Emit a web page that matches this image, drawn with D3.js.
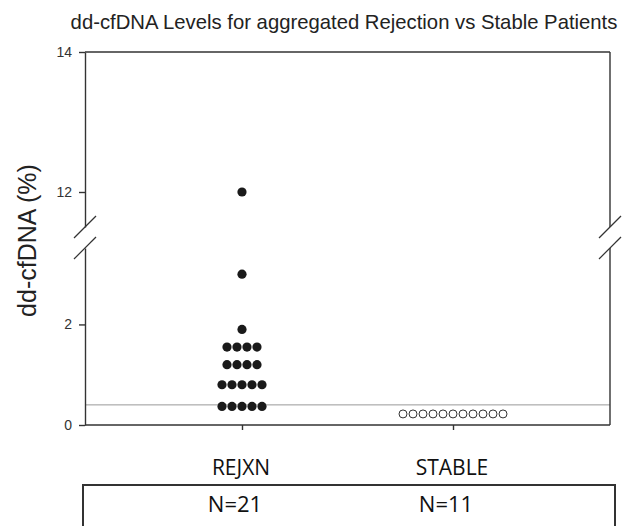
<!DOCTYPE html>
<html>
<head>
<meta charset="utf-8">
<script src="https://cdn.jsdelivr.net/npm/d3@7"></script>
<style>
  body { margin: 0; background: #fff; }
  svg { display: block; }
</style>
</head>
<body>
<svg id="chart" width="633" height="526"></svg>
<script>
// groups and values
const groups = ["REJXN", "STABLE"];
const groupCounts = ["N=21", "N=11"];
const rejxnValues = [12.0, 3.0, 1.9, 1.55, 1.55, 1.55, 1.55, 1.2, 1.2, 1.2, 1.2,
                     0.8, 0.8, 0.8, 0.8, 0.8, 0.37, 0.37, 0.37, 0.37, 0.37];
const stableValues = [0.22, 0.22, 0.22, 0.22, 0.22, 0.22, 0.22, 0.22, 0.22, 0.22, 0.22];
const cutoff = 0.4;
const lowTicks = [0, 2];
const highTicks = [12, 14];
const breakLow = 3.52, breakHigh = 11.5;

const svg = d3.select("#chart");
const left = 85, right = 610;
const arial = "'Liberation Sans', Arial, sans-serif";

// broken y axis: two linear pieces
const yLow = d3.scaleLinear().domain([0, breakLow]).range([425, 248]);
const yHigh = d3.scaleLinear().domain([breakHigh, 14]).range([227, 52]);
const y = v => v >= breakHigh ? yHigh(v) : yLow(v);

const x = d3.scalePoint().domain(groups).range([left, right]).padding(0.744);

// title
svg.append("text")
  .attr("x", 344).attr("y", 29)
  .attr("text-anchor", "middle")
  .attr("font-family", arial)
  .attr("font-size", 20.3).attr("fill", "#222")
  .text("dd-cfDNA Levels for aggregated Rejection vs Stable Patients");

// cutoff line
svg.append("line")
  .attr("x1", left).attr("x2", right)
  .attr("y1", yLow(cutoff)).attr("y2", yLow(cutoff))
  .attr("stroke", "#999").attr("stroke-width", 1);

// axes
const axisCol = "#333";
function styleAxis(g) {
  g.selectAll("path, line").attr("stroke", axisCol).attr("stroke-width", 1.4);
  g.selectAll("text").attr("font-family", arial).attr("font-size", 14).attr("fill", "#333");
}
svg.append("g").attr("transform", `translate(${left},0)`)
  .call(d3.axisLeft(yLow).tickValues(lowTicks).tickFormat(d3.format("d"))
    .tickSize(6).tickSizeOuter(0).tickPadding(7))
  .call(styleAxis);
svg.append("g").attr("transform", `translate(${left},0)`)
  .call(d3.axisLeft(yHigh).tickValues(highTicks).tickFormat(d3.format("d"))
    .tickSize(6).tickSizeOuter(0).tickPadding(7))
  .call(styleAxis);
// right side of frame
[yLow, yHigh].forEach(s => {
  svg.append("line")
    .attr("x1", right).attr("x2", right)
    .attr("y1", s.range()[0]).attr("y2", s.range()[1])
    .attr("stroke", axisCol).attr("stroke-width", 1.4);
});
// top frame
svg.append("line")
  .attr("x1", left).attr("x2", right)
  .attr("y1", yHigh(14)).attr("y2", yHigh(14))
  .attr("stroke", axisCol).attr("stroke-width", 1.4);
// bottom axis
svg.append("g").attr("transform", `translate(0,${yLow(0)})`)
  .call(d3.axisBottom(x).tickSize(5).tickSizeOuter(0).tickFormat(""))
  .call(g => g.select(".domain").attr("d", `M${left},0H${right}`))
  .call(styleAxis);

// break marks
[left, right].forEach(cx => {
  [yHigh(breakHigh), yLow(breakLow)].forEach(cy => {
    svg.append("line")
      .attr("x1", cx - 11).attr("y1", cy + 11)
      .attr("x2", cx + 11).attr("y2", cy - 11)
      .attr("stroke", axisCol).attr("stroke-width", 1.2);
  });
});

// dot layout: points with the same value spread side by side
function layout(values, group) {
  const counts = d3.rollup(values, v => v.length, v => v);
  const seen = new Map();
  return values.map(v => {
    const n = counts.get(v);
    const i = seen.get(v) || 0;
    seen.set(v, i + 1);
    return { value: v, cx: x(group) + (i - (n - 1) / 2) * 10, cy: y(v) };
  });
}

svg.selectAll(".rej")
  .data(layout(rejxnValues, "REJXN"))
  .enter().append("circle")
  .attr("class", "rej")
  .attr("cx", d => d.cx).attr("cy", d => d.cy)
  .attr("r", 4.6).attr("fill", "#1a1a1a");

svg.selectAll(".stab")
  .data(layout(stableValues, "STABLE"))
  .enter().append("circle")
  .attr("class", "stab")
  .attr("cx", d => d.cx).attr("cy", d => d.cy)
  .attr("r", 4).attr("fill", "#fff")
  .attr("stroke", "#333").attr("stroke-width", 1);

// y title
svg.append("text")
  .attr("transform", `translate(36,${(yHigh(14) + yLow(0)) / 2 + 2}) rotate(-90)`)
  .attr("text-anchor", "middle")
  .attr("font-family", arial)
  .attr("font-size", 25).attr("fill", "#222")
  .text("dd-cfDNA (%)");

// group labels and counts table
const labelFont = "'Open Sans', 'Noto Sans', sans-serif";
svg.selectAll(".grp")
  .data(groups)
  .enter().append("text")
  .attr("class", "grp")
  .attr("x", d => x(d) - 1).attr("y", 475)
  .attr("text-anchor", "middle")
  .attr("font-family", labelFont).attr("font-size", 21)
  .attr("font-weight", 500).attr("fill", "#111")
  .text(d => d);

svg.append("rect")
  .attr("x", 83).attr("y", 485)
  .attr("width", 532).attr("height", 60)
  .attr("fill", "none").attr("stroke", "#333").attr("stroke-width", 2);

svg.selectAll(".cnt")
  .data(groups)
  .enter().append("text")
  .attr("class", "cnt")
  .attr("x", d => x(d) - 7).attr("y", 512)
  .attr("text-anchor", "middle")
  .attr("font-family", labelFont).attr("font-size", 22)
  .attr("font-weight", 500).attr("fill", "#111")
  .text((d, i) => groupCounts[i]);
</script>
</body>
</html>
